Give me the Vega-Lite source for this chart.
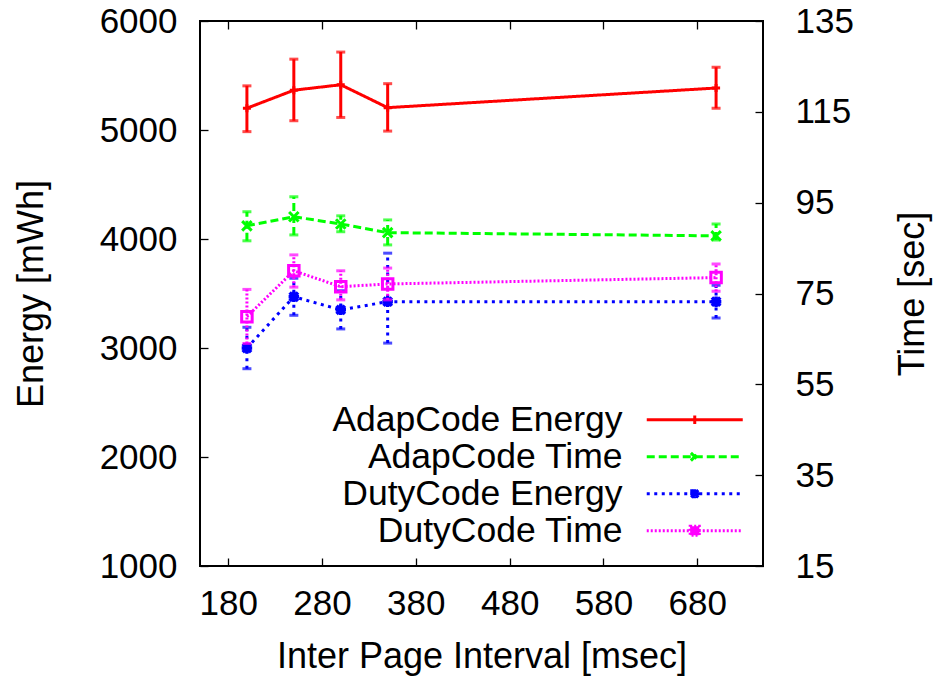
{
  "$schema": "https://vega.github.io/schema/vega-lite/v6.json",
  "width": 563,
  "height": 545,
  "autosize": "none",
  "padding": {"left": 200, "top": 21, "right": 172, "bottom": 113},
  "background": "white",
  "config": {
    "font": "Liberation Sans",
    "view": {"stroke": "#000", "strokeWidth": 2},
    "axis": {
      "domain": false, "grid": false, "tickSize": -8, "tickColor": "#000", "tickWidth": 1.3,
      "labelFont": "Liberation Sans", "labelFontSize": 35, "labelColor": "#000",
      "titleFont": "Liberation Sans", "titleFontSize": 36, "titleFontWeight": "normal", "titleColor": "#000"
    },
    "legend": {
      "labelFont": "Liberation Sans", "labelFontSize": 35.5, "labelColor": "#000",
      "labelAlign": "right", "labelOffset": -90, "labelLimit": 600,
      "symbolSize": 576, "symbolStrokeWidth": 3, "rowPadding": 0, "padding": 0
    }
  },
  "data": {
    "values": [
      {"axis": "E", "s": "AdapCode Energy", "x": 200, "v": 5200, "lo": 4985, "hi": 5405},
      {"axis": "E", "s": "AdapCode Energy", "x": 250, "v": 5365, "lo": 5085, "hi": 5650},
      {"axis": "E", "s": "AdapCode Energy", "x": 300, "v": 5415, "lo": 5115, "hi": 5715},
      {"axis": "E", "s": "AdapCode Energy", "x": 350, "v": 5205, "lo": 4990, "hi": 5425},
      {"axis": "E", "s": "AdapCode Energy", "x": 700, "v": 5385, "lo": 5200, "hi": 5575},
      {"axis": "E", "s": "DutyCode Energy", "x": 200, "v": 3000, "lo": 2810, "hi": 3190},
      {"axis": "E", "s": "DutyCode Energy", "x": 250, "v": 3470, "lo": 3300, "hi": 3640},
      {"axis": "E", "s": "DutyCode Energy", "x": 300, "v": 3350, "lo": 3175, "hi": 3525},
      {"axis": "E", "s": "DutyCode Energy", "x": 350, "v": 3425, "lo": 3045, "hi": 3870},
      {"axis": "E", "s": "DutyCode Energy", "x": 700, "v": 3425, "lo": 3275, "hi": 3575},
      {"axis": "T", "s": "AdapCode Time", "x": 200, "v": 89.9, "lo": 86.6, "hi": 93.0},
      {"axis": "T", "s": "AdapCode Time", "x": 250, "v": 91.9, "lo": 87.9, "hi": 96.3},
      {"axis": "T", "s": "AdapCode Time", "x": 300, "v": 90.3, "lo": 88.6, "hi": 92.1},
      {"axis": "T", "s": "AdapCode Time", "x": 350, "v": 88.4, "lo": 85.7, "hi": 91.2},
      {"axis": "T", "s": "AdapCode Time", "x": 700, "v": 87.7, "lo": 86.8, "hi": 90.3},
      {"axis": "T", "s": "DutyCode Time", "x": 200, "v": 69.9, "lo": 64.0, "hi": 75.9},
      {"axis": "T", "s": "DutyCode Time", "x": 250, "v": 80.0, "lo": 76.4, "hi": 83.5},
      {"axis": "T", "s": "DutyCode Time", "x": 300, "v": 76.5, "lo": 73.6, "hi": 80.0},
      {"axis": "T", "s": "DutyCode Time", "x": 350, "v": 77.1, "lo": 73.6, "hi": 80.6},
      {"axis": "T", "s": "DutyCode Time", "x": 700, "v": 78.5, "lo": 75.5, "hi": 81.5}
    ]
  },
  "layer": [
    {
      "transform": [{"filter": "datum.axis === 'E'"}],
      "layer": [
        {
          "mark": {"type": "rule", "strokeWidth": 3},
          "encoding": {
            "x": {"field": "x", "type": "quantitative", "scale": {"domain": [150, 750], "nice": false, "zero": false},
                  "axis": {"orient": "bottom", "values": [180, 280, 380, 480, 580, 680], "labelPadding": 28, "title": "Inter Page Interval [msec]", "titleY": 101, "titleBaseline": "alphabetic"}},
            "y": {"field": "lo", "type": "quantitative", "scale": {"domain": [1000, 6000], "nice": false, "zero": false},
                  "axis": {"orient": "left", "format": "d", "values": [1000, 2000, 3000, 4000, 5000, 6000], "labelPadding": 31, "title": "Energy [mWh]", "titleAngle": 270, "titleX": -158, "titleY": 272.5, "titleBaseline": "alphabetic", "titleAlign": "center"}},
            "y2": {"field": "hi"},
            "color": {"field": "s", "type": "nominal", "scale": {"domain": ["AdapCode Energy", "AdapCode Time", "DutyCode Energy", "DutyCode Time"], "range": ["#ff0000", "#00ff00", "#0000ff", "#ff00ff"]},
                      "legend": {"title": null, "orient": "none", "legendX": 477, "legendY": 381,
                                 "encode": {"symbols": {"update": {
                                   "shape": {"signal": "datum.value === 'AdapCode Energy' ? 'M-4,0L4,0M0,-0.35L0,0.35' : datum.value === 'AdapCode Time' ? 'M-4,0L4,0M-0.32,-0.32L0.32,0.32M-0.32,0.32L0.32,-0.32' : datum.value === 'DutyCode Energy' ? 'M-4,0L4,0M-0.38,0L0.38,0M0,-0.38L0,0.38M-0.3,-0.3L0.3,0.3M-0.3,0.3L0.3,-0.3M-0.25,-0.25L0.25,-0.25L0.25,0.25L-0.25,0.25Z' : 'M-4,0L4,0M-0.38,-0.38L0.38,-0.38L0.38,0.38L-0.38,0.38Z'"},
                                   "fill": {"signal": "datum.value === 'DutyCode Energy' ? '#0000ff' : datum.value === 'DutyCode Time' ? '#ff00ff' : 'transparent'"}}}}}},
            "strokeDash": {"field": "s", "type": "nominal", "scale": {"domain": ["AdapCode Energy", "AdapCode Time", "DutyCode Energy", "DutyCode Time"], "range": [[1, 0], [8, 4], [3, 4.5], [2, 2]]},
                           "legend": {"title": null, "orient": "none", "legendX": 477, "legendY": 381}}
          }
        },
        {
          "mark": {"type": "tick", "orient": "horizontal", "size": 9, "thickness": 3},
          "encoding": {
            "x": {"field": "x", "type": "quantitative"},
            "y": {"field": "lo", "type": "quantitative"},
            "color": {"field": "s", "type": "nominal"}
          }
        },
        {
          "mark": {"type": "tick", "orient": "horizontal", "size": 9, "thickness": 3},
          "encoding": {
            "x": {"field": "x", "type": "quantitative"},
            "y": {"field": "hi", "type": "quantitative"},
            "color": {"field": "s", "type": "nominal"}
          }
        },
        {
          "mark": {"type": "line", "strokeWidth": 3},
          "encoding": {
            "x": {"field": "x", "type": "quantitative"},
            "y": {"field": "v", "type": "quantitative"},
            "color": {"field": "s", "type": "nominal"},
            "strokeDash": {"field": "s", "type": "nominal"}
          }
        },
        {
          "transform": [{"filter": "datum.s === 'AdapCode Energy'"}],
          "mark": {"type": "point", "filled": false, "strokeWidth": 3, "opacity": 1, "shape": "M-1,0L1,0M0,-1L0,1", "size": 64},
          "encoding": {
            "x": {"field": "x", "type": "quantitative"},
            "y": {"field": "v", "type": "quantitative"},
            "color": {"field": "s", "type": "nominal"}
          }
        },
        {
          "transform": [{"filter": "datum.s === 'DutyCode Energy'"}],
          "mark": {"type": "point", "filled": false, "strokeWidth": 3.5, "opacity": 1, "shape": "M-1,0L1,0M0,-1L0,1M-0.8,-0.8L0.8,0.8M-0.8,0.8L0.8,-0.8", "size": 110},
          "encoding": {
            "x": {"field": "x", "type": "quantitative"},
            "y": {"field": "v", "type": "quantitative"},
            "color": {"field": "s", "type": "nominal"}
          }
        }
      ]
    },
    {
      "transform": [{"filter": "datum.axis === 'T'"}],
      "layer": [
        {
          "mark": {"type": "rule", "strokeWidth": 3},
          "encoding": {
            "x": {"field": "x", "type": "quantitative",
                  "axis": {"orient": "top", "values": [180, 280, 380, 480, 580, 680], "labels": false, "title": null}},
            "y": {"field": "lo", "type": "quantitative", "scale": {"domain": [15, 135], "nice": false, "zero": false},
                  "axis": {"orient": "right", "values": [15, 35, 55, 75, 95, 115, 135], "labelPadding": 40, "title": "Time [sec]", "titleAngle": 270, "titleX": 160, "titleY": 272.5, "titleBaseline": "alphabetic", "titleAlign": "center"}},
            "y2": {"field": "hi"},
            "color": {"field": "s", "type": "nominal"},
            "strokeDash": {"field": "s", "type": "nominal"}
          }
        },
        {
          "mark": {"type": "tick", "orient": "horizontal", "size": 9, "thickness": 3},
          "encoding": {
            "x": {"field": "x", "type": "quantitative"},
            "y": {"field": "lo", "type": "quantitative"},
            "color": {"field": "s", "type": "nominal"}
          }
        },
        {
          "mark": {"type": "tick", "orient": "horizontal", "size": 9, "thickness": 3},
          "encoding": {
            "x": {"field": "x", "type": "quantitative"},
            "y": {"field": "hi", "type": "quantitative"},
            "color": {"field": "s", "type": "nominal"}
          }
        },
        {
          "mark": {"type": "line", "strokeWidth": 3},
          "encoding": {
            "x": {"field": "x", "type": "quantitative"},
            "y": {"field": "v", "type": "quantitative"},
            "color": {"field": "s", "type": "nominal"},
            "strokeDash": {"field": "s", "type": "nominal"}
          }
        },
        {
          "transform": [{"filter": "datum.s === 'AdapCode Time'"}],
          "mark": {"type": "point", "filled": false, "strokeWidth": 3, "opacity": 1, "shape": "M-1,-1L1,1M-1,1L1,-1", "size": 90},
          "encoding": {
            "x": {"field": "x", "type": "quantitative"},
            "y": {"field": "v", "type": "quantitative"},
            "color": {"field": "s", "type": "nominal"}
          }
        },
        {
          "transform": [{"filter": "datum.s === 'DutyCode Time'"}],
          "mark": {"type": "point", "filled": false, "strokeWidth": 3, "opacity": 1, "shape": "M-1,-1L1,-1L1,1L-1,1Z", "size": 110},
          "encoding": {
            "x": {"field": "x", "type": "quantitative"},
            "y": {"field": "v", "type": "quantitative"},
            "color": {"field": "s", "type": "nominal"}
          }
        }
      ]
    }
  ],
  "resolve": {"scale": {"y": "independent"}, "axis": {"x": "independent", "y": "independent"}}
}
